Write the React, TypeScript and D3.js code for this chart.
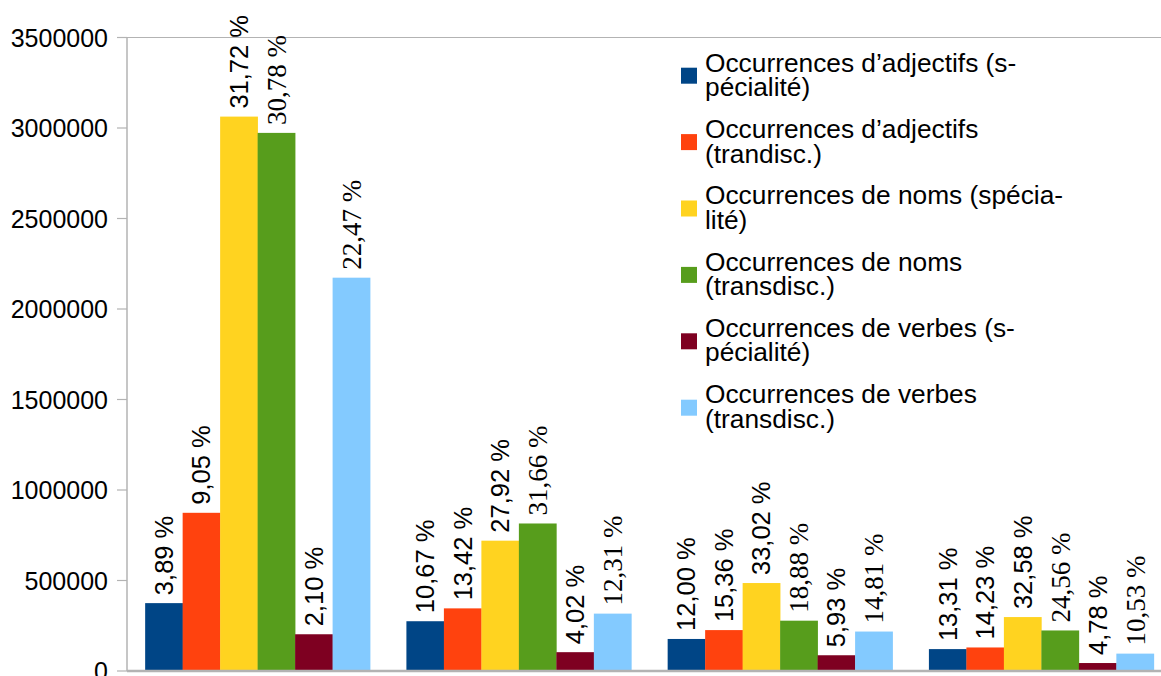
import React from "react";
import * as d3 from "d3";

const categories = ["G1", "G2", "G3", "G4"];
const seriesNames = [
  ["Occurrences d’adjectifs (s-", "pécialité)"],
  ["Occurrences d’adjectifs", "(trandisc.)"],
  ["Occurrences de noms (spécia-", "lité)"],
  ["Occurrences de noms", "(transdisc.)"],
  ["Occurrences de verbes (s-", "pécialité)"],
  ["Occurrences de verbes", "(transdisc.)"],
];
const colors = ["#004586", "#ff420e", "#ffd320", "#579d1c", "#7e0021", "#83caff"];
const serifLabel = [false, false, false, true, false, true];

const adjSpec = [375000, 275000, 177000, 121000];
const adjTrans = [874000, 346000, 226000, 130000];
const nomSpec = [3063000, 720000, 486000, 298000];
const nomTrans = [2973000, 815000, 278000, 224000];
const verSpec = [203000, 104000, 87000, 44000];
const verTrans = [2173000, 317000, 218000, 96000];
const seriesValues = [adjSpec, adjTrans, nomSpec, nomTrans, verSpec, verTrans];

const pctAdjSpec = ["3,89 %", "10,67 %", "12,00 %", "13,31 %"];
const pctAdjTrans = ["9,05 %", "13,42 %", "15,36 %", "14,23 %"];
const pctNomSpec = ["31,72 %", "27,92 %", "33,02 %", "32,58 %"];
const pctNomTrans = ["30,78 %", "31,66 %", "18,88 %", "24,56 %"];
const pctVerSpec = ["2,10 %", "4,02 %", "5,93 %", "4,78 %"];
const pctVerTrans = ["22,47 %", "12,31 %", "14,81 %", "10,53 %"];
const seriesLabels = [pctAdjSpec, pctAdjTrans, pctNomSpec, pctNomTrans, pctVerSpec, pctVerTrans];

const yTicks = [0, 500000, 1000000, 1500000, 2000000, 2500000, 3000000, 3500000];

const W = 1161;
const H = 676;
const left = 127;
const right = 1172;
const top = 37.5;
const bottom = 671;
const sans = "Liberation Sans, Arial, sans-serif";
const serif = "Liberation Serif, serif";
const axisColor = "#b3b3b3";

export default function App() {
  const y = d3.scaleLinear().domain([0, 3500000]).range([bottom, top]);
  const x0 = d3
    .scaleBand<string>()
    .domain(categories)
    .range([left, right])
    .paddingInner(0.139)
    .paddingOuter(0.0695);
  const x1 = d3
    .scaleBand<number>()
    .domain(d3.range(seriesValues.length))
    .range([0, x0.bandwidth()])
    .padding(0);

  return (
    <svg
      width={W}
      height={H}
      style={{ position: "absolute", left: 0, top: 0, background: "#fff" }}
    >
      <rect x={0} y={0} width={W} height={H} fill="#fff" />
      <line x1={left} x2={W} y1={y(3500000)} y2={y(3500000)} stroke={axisColor} strokeWidth={1.2} />
      <line x1={left} x2={left} y1={top} y2={bottom} stroke={axisColor} strokeWidth={1.5} />
      {yTicks.map((t) => (
        <g key={t}>
          <line x1={117} x2={left} y1={y(t)} y2={y(t)} stroke={axisColor} strokeWidth={1.2} />
          <text
            x={108}
            y={y(t)}
            dy="0.36em"
            textAnchor="end"
            fontFamily={sans}
            fontSize={25}
            fill="#000"
          >
            {t}
          </text>
        </g>
      ))}
      {categories.map((c, ci) => (
        <g key={c} transform={`translate(${x0(c)},0)`}>
          {seriesValues.map((vals, si) => {
            const bx = x1(si)!;
            const bw = x1.bandwidth();
            const v = vals[ci];
            return (
              <rect
                key={si}
                x={bx}
                y={y(v)}
                width={bw + 0.3}
                height={bottom - y(v)}
                fill={colors[si]}
              />
            );
          })}
          {seriesValues.map((vals, si) => {
            const cx = x1(si)! + x1.bandwidth() / 2;
            const ty = y(vals[ci]) - 8;
            const isSerif = serifLabel[si];
            return (
              <text
                key={"l" + si}
                transform={`translate(${cx},${ty}) rotate(-90)`}
                dy="0.35em"
                textAnchor="start"
                fontFamily={isSerif ? serif : sans}
                fontSize={isSerif ? 27 : 25.5}
                fill="#000"
              >
                {seriesLabels[si][ci]}
              </text>
            );
          })}
        </g>
      ))}
      <line x1={left} x2={W} y1={bottom} y2={bottom} stroke={axisColor} strokeWidth={2.5} />
      {seriesNames.map((lines, i) => {
        const baseY = 71.7 + i * 66.3;
        return (
          <g key={i}>
            <rect x={681} y={67.7 + i * 66.4} width={16} height={16} fill={colors[i]} />
            {lines.map((ln, li) => (
              <text
                key={li}
                x={705}
                y={baseY + li * 24.5}
                fontFamily={sans}
                fontSize={26.3}
                fill="#000"
              >
                {ln}
              </text>
            ))}
          </g>
        );
      })}
    </svg>
  );
}
